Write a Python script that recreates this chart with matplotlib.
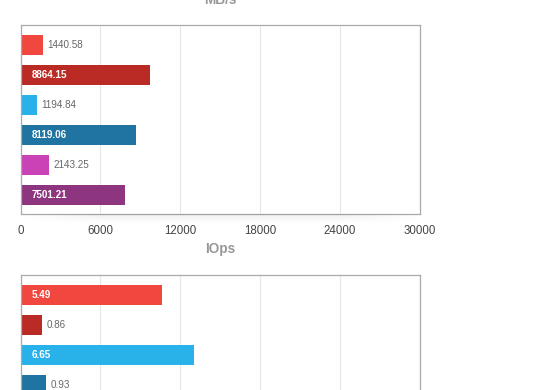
import matplotlib.pyplot as plt
import numpy as np

plt.rcParams['font.family'] = ['Liberation Sans', 'DejaVu Sans']

# MB/s panel
mbps_values = [1440.58, 8864.15, 1194.84, 8119.06, 2143.25, 7501.21]
mbps_lengths = [1690, 9710, 1240, 8660, 2140, 7840]   # bar lengths as drawn
mbps_ticks = [0, 6000, 12000, 18000, 24000, 30000]

# IOps panel (only the top four bars are in view)
iops_values = [5.49, 0.86, 6.65, 0.93]
iops_lengths = [5.31, 0.81, 6.51, 0.96]
iops_ticks = [0, 3, 6, 9, 12, 15]

colors = ['#f0483f', '#b92b24', '#29b1e9', '#1f74a1', '#c942b6', '#8e3580']

W, H = 560, 390
fig = plt.figure(figsize=(W / 100, H / 100), dpi=100)

left, right = 20.5, 419.7
box_h = 189.3


def make_axes(top_px):
    return fig.add_axes([left / W, (H - top_px - box_h) / H, (right - left) / W, box_h / H])


def draw_panel(ax, values, lengths, ticks, show_ticks=True):
    y = np.arange(len(values))
    ax.barh(y, lengths, height=0.667, color=colors[:len(values)], zorder=2)
    ax.set_xlim(ticks[0], ticks[-1])
    ax.set_ylim(5.643, -0.667)
    ax.set_xticks(ticks)
    ax.set_xticklabels([str(t) for t in ticks])
    ax.set_yticks([])
    ax.grid(axis='x', color='#e6e6e6', linewidth=0.8, zorder=0)
    ax.tick_params(axis='x', length=0, pad=8, labelsize=8.3, labelcolor='#444444',
                   labelbottom=show_ticks)
    for s in ax.spines.values():
        s.set_color('#aaaaaa')
        s.set_linewidth(0.9)
    for yi, v, l in zip(y, values, lengths):
        txt = f'{v:.2f}'
        if l / ticks[-1] > 0.15:
            ax.annotate(txt, (0, yi), xytext=(8, 0), textcoords='offset points',
                        va='center', ha='left', fontsize=7.1, color='white',
                        fontweight='bold', zorder=3)
        else:
            ax.annotate(txt, (l, yi), xytext=(3.3, 0), textcoords='offset points',
                        va='center', ha='left', fontsize=7.1, color='#666666', zorder=3)


ax1 = make_axes(25)
draw_panel(ax1, mbps_values, mbps_lengths, mbps_ticks)

ax2 = make_axes(275)
draw_panel(ax2, iops_values, iops_lengths, iops_ticks, show_ticks=False)

# soft shadow under the upper box
sh = fig.add_axes([left / W, (H - 214.3 - 11) / H, (right - left) / W, 11 / H])
gy = np.linspace(1, 0, 20)[:, None] ** 1.5
gx = np.clip(np.sin(np.linspace(0, np.pi, 200)) * 1.6, 0, 1)[None, :]
rgba = np.zeros((20, 200, 4))
rgba[..., :3] = 0.45
rgba[..., 3] = 0.13 * gy * gx
sh.imshow(rgba, aspect='auto', extent=[0, 1, 0, 1])
sh.set_axis_off()

fig.text(220 / W, (H - 4.5) / H, 'MB/s', ha='center', va='baseline',
         fontsize=9.8, fontweight='bold', color='#999999')
fig.text(220 / W, (H - 253) / H, 'IOps', ha='center', va='baseline',
         fontsize=9.8, fontweight='bold', color='#999999')

fig.savefig('out.png', dpi=100)
